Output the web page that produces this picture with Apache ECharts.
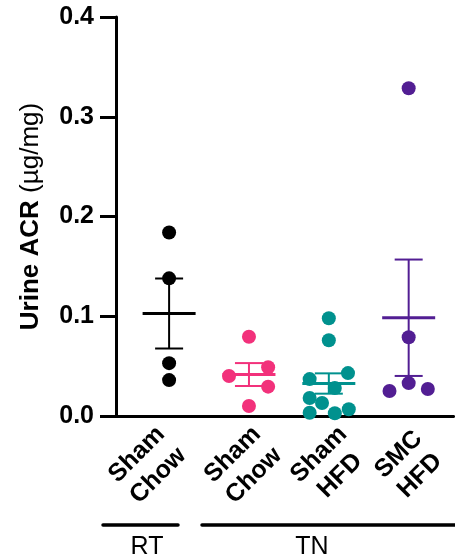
<!DOCTYPE html>
<html>
<head>
<meta charset="utf-8">
<script src="https://cdn.jsdelivr.net/npm/echarts@6/dist/echarts.min.js"></script>
<style>
  html, body { margin: 0; padding: 0; background: #fff; }
  #chart { width: 455px; height: 560px; }
</style>
</head>
<body>
<div id="chart"></div>
<script>
// Group labels along the x axis, and the housing condition of each
const groupLabels = ['Sham\nChow', 'Sham\nChow', 'Sham\nHFD', 'SMC\nHFD'];
const conditionLabels = ['RT', 'TN'];

// Urine ACR (µg/mg), one value per animal
const rtShamChow = [0.184, 0.138, 0.053, 0.036];
const tnShamChow = [0.0795, 0.0488, 0.0401, 0.0294, 0.010];
const tnShamHFD = [0.098, 0.076, 0.043, 0.037, 0.028, 0.018, 0.013, 0.0033, 0.0027, 0.0067];
const tnSmcHFD = [0.3285, 0.079, 0.033, 0.025, 0.027];

const yTicks = [0, 0.1, 0.2, 0.3, 0.4];

// ---- layout ----
const groupsData = [rtShamChow, tnShamChow, tnShamHFD, tnSmcHFD];
const colors = ['#000000', '#F2317B', '#00918E', '#521E93'];
// horizontal spread of overlapping dots (in category units)
const spread = [
  [0, 0, 0, 0],
  [0, 0.24, -0.25, 0.24, 0],
  [0, 0, 0.24, -0.24, 0.075, -0.24, -0.085, -0.24, 0.075, 0.25],
  [0, 0, 0, -0.24, 0.24]
];
// where each rotated label is anchored on the x axis
const labelAt = [0.03, 1.23, 2.31, 3.31];
const FONT = '"Liberation Sans", Arial, sans-serif';

function meanSem(arr) {
  const n = arr.length;
  const m = arr.reduce((a, b) => a + b, 0) / n;
  const sd = Math.sqrt(arr.reduce((a, b) => a + (b - m) * (b - m), 0) / (n - 1));
  return [m, sd / Math.sqrt(n)];
}

const series = [];
groupsData.forEach((vals, gi) => {
  const [m, s] = meanSem(vals);
  series.push({
    type: 'custom',
    z: 2,
    silent: true,
    data: [[gi, m, s]],
    renderItem(params, api) {
      const x = api.value(0), mean = api.value(1), sem = api.value(2);
      const c = api.coord([x, mean]);
      const t = api.coord([x, mean + sem]);
      const b = api.coord([x, mean - sem]);
      const half = 26.5, cap = 14;
      const col = colors[gi];
      return {
        type: 'group',
        children: [
          { type: 'line', shape: { x1: t[0], y1: t[1], x2: b[0], y2: b[1] }, style: { stroke: col, lineWidth: 2 } },
          { type: 'line', shape: { x1: t[0] - cap, y1: t[1], x2: t[0] + cap, y2: t[1] }, style: { stroke: col, lineWidth: 2 } },
          { type: 'line', shape: { x1: b[0] - cap, y1: b[1], x2: b[0] + cap, y2: b[1] }, style: { stroke: col, lineWidth: 2 } },
          { type: 'line', shape: { x1: c[0] - half, y1: c[1], x2: c[0] + half, y2: c[1] }, style: { stroke: col, lineWidth: 3 } }
        ]
      };
    }
  });
  series.push({
    type: 'scatter',
    z: 3,
    symbol: 'circle',
    symbolSize: 14,
    itemStyle: { color: colors[gi], opacity: 1 },
    data: vals.map((v, k) => [gi + spread[gi][k], v])
  });
});

const chart = echarts.init(document.getElementById('chart'), null, { renderer: 'canvas' });
chart.setOption({
  animation: false,
  backgroundColor: '#ffffff',
  grid: { left: 116, right: 0, top: 17, bottom: 144, containLabel: false },
  xAxis: {
    type: 'value',
    min: -0.665,
    max: 3.562,
    splitLine: { show: false },
    axisTick: { show: false },
    axisLine: { onZero: false, lineStyle: { color: '#000', width: 3 } },
    axisLabel: {
      customValues: labelAt,
      rotate: 45,
      margin: 25,
      color: '#000',
      formatter(v) {
        let idx = 0, best = Infinity;
        labelAt.forEach((p, i) => { if (Math.abs(p - v) < best) { best = Math.abs(p - v); idx = i; } });
        return groupLabels[idx].split('\n').map(l => '{g|' + l + '}').join('\n');
      },
      rich: {
        g: { width: 68, align: 'center', fontSize: 25, fontWeight: 'bold', fontFamily: FONT, lineHeight: 30, color: '#000' }
      }
    }
  },
  yAxis: {
    type: 'value',
    min: yTicks[0],
    max: yTicks[yTicks.length - 1],
    interval: 0.1,
    splitLine: { show: false },
    axisLine: { show: true, onZero: false, lineStyle: { color: '#000', width: 3 } },
    axisTick: { show: true, length: 16, lineStyle: { color: '#000', width: 3 } },
    axisLabel: {
      margin: 22,
      color: '#000',
      fontSize: 25,
      fontWeight: 'bold',
      fontFamily: FONT,
      formatter: v => v.toFixed(1)
    },
    name: '{b|Urine ACR }{r|(µg/mg)}',
    nameLocation: 'middle',
    nameGap: 72,
    nameTextStyle: {
      rich: {
        b: { fontSize: 26, fontWeight: 'bold', fontFamily: FONT, color: '#000' },
        r: { fontSize: 26, fontWeight: 'normal', fontFamily: FONT, color: '#000' }
      }
    }
  },
  series: series,
  graphic: [
    { type: 'line', shape: { x1: 103, y1: 525, x2: 178, y2: 525 }, style: { stroke: '#000', lineWidth: 3.5, lineCap: 'round' } },
    { type: 'line', shape: { x1: 202, y1: 525, x2: 470, y2: 525 }, style: { stroke: '#000', lineWidth: 3.5, lineCap: 'round' } },
    { type: 'text', x: 147, y: 535, style: { text: conditionLabels[0], fill: '#000', font: '25px ' + FONT, textAlign: 'center', textVerticalAlign: 'top' } },
    { type: 'text', x: 312, y: 535, style: { text: conditionLabels[1], fill: '#000', font: '25px ' + FONT, textAlign: 'center', textVerticalAlign: 'top' } }
  ]
});
</script>
</body>
</html>
